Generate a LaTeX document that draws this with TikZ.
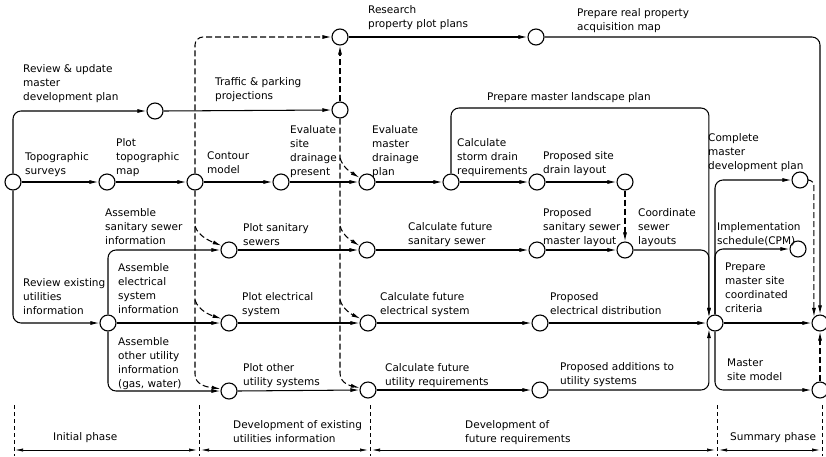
\documentclass[tikz,border=0pt]{standalone}
\usepackage{fontspec}
\newfontfamily\lblfont{DejaVu Sans}
\usetikzlibrary{arrows.meta,calc}
\begin{document}
\begin{tikzpicture}[x=1pt,y=-1pt,line join=round,
  stn/.style={circle, draw, line width=1.1pt, minimum size=16pt, inner sep=0pt, fill=white},
  lbl/.style={font=\lblfont\fontsize{10.5}{14}\selectfont, align=left, inner sep=0pt, anchor=north west},
  arr/.style={line width=1.05pt, -{Latex[length=9pt,width=4pt]}},
  dasharr/.style={arr, dash pattern=on 6pt off 3pt},
  phasetick/.style={line width=0.6pt, dash pattern=on 4pt off 3pt},
  phasearr/.style={line width=0.7pt, {Latex[length=8pt,width=3.2pt]}-{Latex[length=8pt,width=3.2pt]}},
  rc/.style={rounded corners=8pt}]
\useasboundingbox (0,0) rectangle (826,456);

% ---------- stations ----------
\node[stn] (s0) at (13,182) {};
\node[stn] (r1) at (107,182) {};
\node[stn] (r2) at (195,182) {};
\node[stn] (r3) at (281,182) {};
\node[stn] (r4) at (367,182) {};
\node[stn] (r5) at (451,182) {};
\node[stn] (r6) at (537,182) {};
\node[stn] (r7) at (625,182) {};
\node[stn] (t1) at (155,111) {};
\node[stn] (t2) at (340,110) {};
\node[stn] (t3) at (340,37) {};
\node[stn] (t4) at (536,37) {};
\node[stn] (u0) at (108,323) {};
\node[stn] (s1) at (229,250) {};
\node[stn] (s2) at (367,250) {};
\node[stn] (s3) at (537,250) {};
\node[stn] (s4) at (625,250) {};
\node[stn] (e1) at (229,323) {};
\node[stn] (e2) at (368,323) {};
\node[stn] (e3) at (540,323) {};
\node[stn] (m)  at (715,323) {};
\node[stn] (o1) at (229,391) {};
\node[stn] (o2) at (368,390) {};
\node[stn] (o3) at (540,390) {};
\node[stn] (c1) at (800,180) {};
\node[stn] (c2) at (798,249) {};
\node[stn] (f)  at (820,323) {};
\node[stn] (g)  at (820,390) {};

% branch points on the dashed lines
\coordinate (bA) at (195,226);
\coordinate (bB) at (195,300);
\coordinate (bC) at (195,374);
\coordinate (dA) at (340,158);
\coordinate (dB) at (340,226);
\coordinate (dC) at (340,300);
\coordinate (dD) at (340,373);

% ---------- solid connectors ----------
\draw[arr,rc] (s0.north) |- (t1.west);
\draw[arr] (s0.east) -- (r1.west);
\draw[arr,rc] (s0.south) |- (u0.west);
\draw[arr] (r1.east) -- (r2.west);
\draw[arr] (r2.east) -- (r3.west);
\draw[arr] (r3.east) -- (r4.west);
\draw[arr] (r4.east) -- (r5.west);
\draw[arr] (r5.east) -- (r6.west);
\draw[arr] (r6.east) -- (r7.west);
\draw[arr] (t1.east) -- (t2.west);
\draw[arr] (t3.east) -- (t4.west);
\draw[arr,rc] (t4.east) -| (f.north);
\draw[arr,rc] (r5.north) |- (m.135 |- 0,108) -- (m.135);
\draw[arr,rc] (u0.north) |- (s1.west);
\draw[arr] (u0.east) -- (e1.west);
\draw[arr,rc] (u0.south) |- (o1.west);
\draw[arr] (s1.east) -- (s2.west);
\draw[arr] (s2.east) -- (s3.west);
\draw[arr] (s3.east) -- (s4.west);
\draw[arr,rc] (s4.east) -- (m.135 |- s4) -- (m.135);
\draw[arr] (e1.east) -- (e2.west);
\draw[arr] (e2.east) -- (e3.west);
\draw[arr] (e3.east) -- (m.west);
\draw[arr] (o1.east) -- (o2.west);
\draw[arr] (o2.east) -- (o3.west);
\draw[arr,rc] (o3.east) -- (m.225 |- o3) -- (m.225);
\draw[arr,rc] (m.north) |- (c1.west);
\draw[arr,rc] (m.north) |- (c2.west);
\draw[arr] (m.east) -- (f.west);
\draw[arr,rc] (m.south) |- (g.west);

% ---------- dashed connectors ----------
\draw[dasharr,rc] (r2.north) |- (t3.west);
\draw[dasharr] (t2.north) -- (t3.south);
\draw[dasharr] (r7.south) -- (s4.north);
\draw[dasharr] (r2.south) -- (bC) .. controls (195,385) and (207,387) .. (o1.165);
\draw[dasharr] (bA) .. controls (198,236) and (210,241) .. (s1.150);
\draw[dasharr] (bB) .. controls (198,310) and (210,315) .. (e1.150);
\draw[dasharr] (t2.south) -- (dD) .. controls (340,384) and (352,386) .. (o2.165);
\draw[dasharr] (dA) .. controls (343,168) and (352,173) .. (r4.150);
\draw[dasharr] (dB) .. controls (343,236) and (352,241) .. (s2.150);
\draw[dasharr] (dC) .. controls (343,310) and (353,315) .. (e2.150);
\draw[dasharr,rounded corners=6pt] (c1.east) -| (f.135);
\draw[dasharr] (g.north) -- (f.south);

% ---------- labels ----------
\node[lbl] (l1) at (23,64) {Review \& update\\master\\development plan};
\node[lbl] (l2) at (25,152) {Topographic\\surveys};
\node[lbl] (l3) at (116,138) {Plot\\topographic\\map};
\node[lbl] (l4) at (207,152) {Contour\\model};
\node[lbl] (l5) at (290,125) {Evaluate\\site\\drainage\\present};
\node[lbl] (l6) at (372,125) {Evaluate\\master\\drainage\\plan};
\node[lbl] (l7) at (457,138) {Calculate\\storm drain\\requirements};
\node[lbl] (l8) at (543,151) {Proposed site\\drain layout};
\node[lbl] (l9) at (487,92) {Prepare master landscape plan};
\node[lbl] (l10) at (215,77) {Traffic \& parking\\projections};
\node[lbl] (l11) at (368,5) {Research\\property plot plans};
\node[lbl] (l12) at (577,8) {Prepare real property\\acquisition map};
\node[lbl] (l13) at (23,278) {Review existing\\utilities\\information};
\node[lbl] (l14) at (105,208) {Assemble\\sanitary sewer\\information};
\node[lbl] (l15) at (118,263) {Assemble\\electrical\\system\\information};
\node[lbl] (l16) at (118,337) {Assemble\\other utility\\information\\(gas, water)};
\node[lbl] (l17) at (243,223) {Plot sanitary\\sewers};
\node[lbl] (l18) at (408,222) {Calculate future\\sanitary sewer};
\node[lbl] (l19) at (543,208) {Proposed\\sanitary sewer\\master layout};
\node[lbl] (l20) at (638,208) {Coordinate\\sewer\\layouts};
\node[lbl] (l21) at (242,292) {Plot electrical\\system};
\node[lbl] (l22) at (380,292) {Calculate future\\electrical system};
\node[lbl] (l23) at (550,292) {Proposed\\electrical distribution};
\node[lbl] (l24) at (243,363) {Plot other\\utility systems};
\node[lbl] (l25) at (385,363) {Calculate future\\utility requirements};
\node[lbl] (l26) at (560,362) {Proposed additions to\\utility systems};
\node[lbl] (l27) at (708,133) {Complete\\master\\development plan};
\node[lbl] (l28) at (717,222) {Implementation\\schedule(CPM)};
\node[lbl] (l29) at (725,263) {Prepare\\master site\\coordinated\\criteria};
\node[lbl] (l30) at (727,359) {Master\\site model};

% ---------- phases ----------
\coordinate (k0) at (14,405);
\coordinate (k1) at (199,405);
\coordinate (k2) at (370,405);
\coordinate (k3) at (717,405);
\coordinate (k4) at (822,405);
\foreach \k in {k0,k1,k2,k3,k4} \draw[phasetick] (\k) -- (\k |- 0,456);
\draw[phasearr] ([xshift=1pt]k0 |- 0,450) -- ([xshift=-2pt]k1 |- 0,450);
\draw[phasearr] ([xshift=2pt]k1 |- 0,450) -- ([xshift=-2pt]k2 |- 0,450);
\draw[phasearr] ([xshift=2pt]k2 |- 0,450) -- ([xshift=-2pt]k3 |- 0,450);
\draw[phasearr] ([xshift=2pt]k3 |- 0,450) -- ([xshift=-2pt]k4 |- 0,450);
\node[lbl] (ph1) at (53,432) {Initial phase};
\node[lbl] (ph2) at (233,420) {Development of existing\\utilities information};
\node[lbl] (ph3) at (465,420) {Development of\\future requirements};
\node[lbl] (ph4) at (730,432) {Summary phase};
\end{tikzpicture}
\end{document}
